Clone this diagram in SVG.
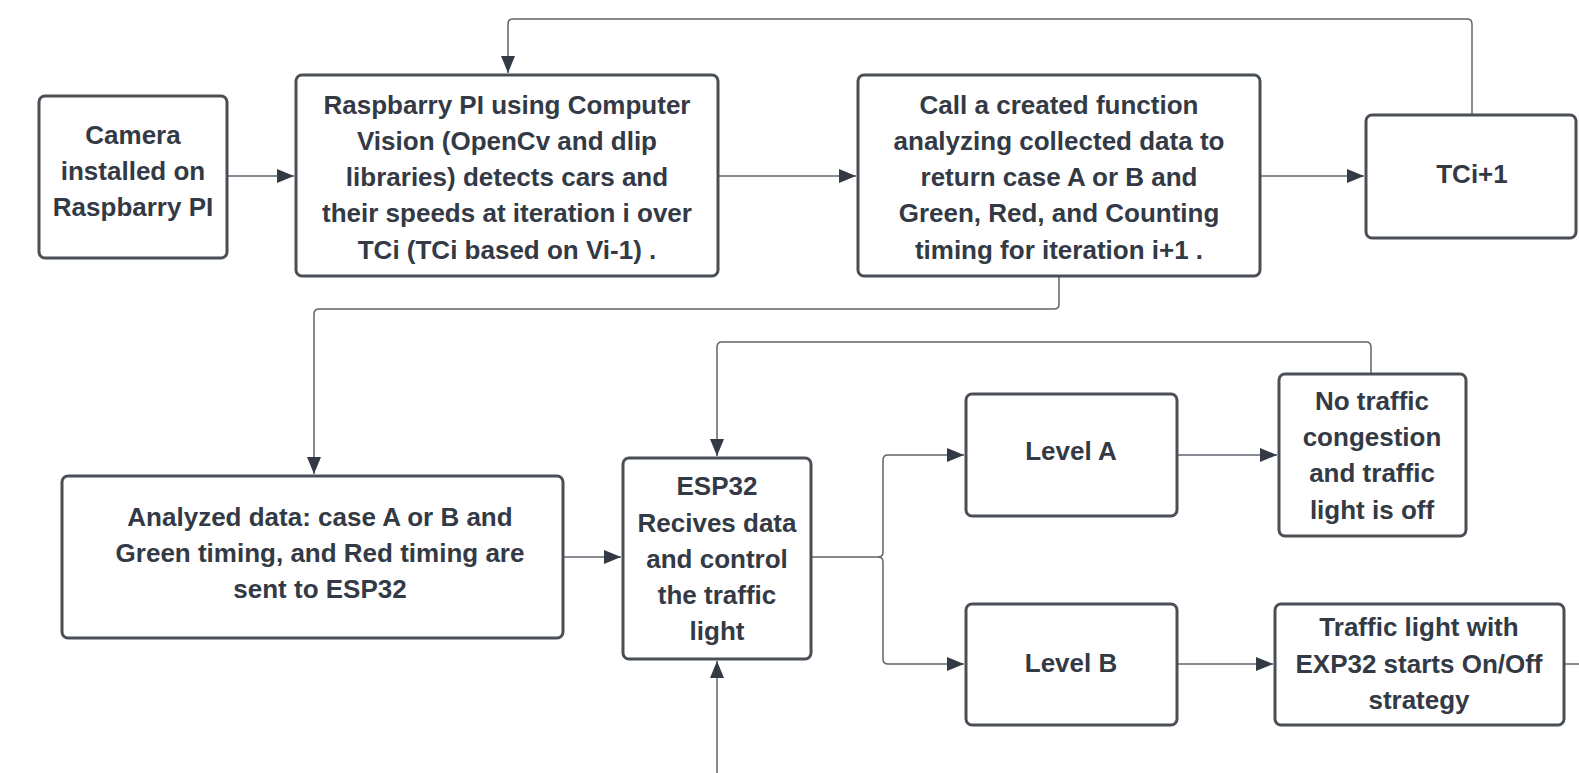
<svg xmlns="http://www.w3.org/2000/svg" width="1579" height="773" viewBox="0 0 1579 773">
<style>
.box{fill:#ffffff;stroke:#4a4f56;stroke-width:3}
.t{font-family:"Liberation Sans",Arial,sans-serif;font-weight:bold;font-size:26px;fill:#333a45;text-anchor:middle}
.c{fill:none;stroke:#60656c;stroke-width:1.5}
</style>
<defs>
<marker id="ah" markerUnits="userSpaceOnUse" markerWidth="18" markerHeight="14" refX="17" refY="7" orient="auto">
<path d="M0,0 L17,7 L0,14 z" fill="#333a45"/>
</marker>
</defs>
<rect width="1579" height="773" fill="#ffffff"/>
<g id="connectors">
<path class="c" d="M227,176 H294" marker-end="url(#ah)"/>
<path class="c" d="M718,176 H856" marker-end="url(#ah)"/>
<path class="c" d="M1260,176 H1364" marker-end="url(#ah)"/>
<path class="c" d="M1472,115 V24 q0,-5 -5,-5 H513 q-5,0 -5,5 V73" marker-end="url(#ah)"/>
<path class="c" d="M1059,276 V304 q0,5 -5,5 H319 q-5,0 -5,5 V474" marker-end="url(#ah)"/>
<path class="c" d="M563,557 H621" marker-end="url(#ah)"/>
<path class="c" d="M1371,374 V347 q0,-5 -5,-5 H722 q-5,0 -5,5 V456" marker-end="url(#ah)"/>
<path class="c" d="M717,773 V661" marker-end="url(#ah)"/>
<path class="c" d="M811,557 H878 q5,0 5,-5 V460 q0,-5 5,-5 H964" marker-end="url(#ah)"/>
<path class="c" d="M878,557 q5,0 5,5 V659 q0,5 5,5 H964" marker-end="url(#ah)"/>
<path class="c" d="M1177,455 H1277" marker-end="url(#ah)"/>
<path class="c" d="M1177,664 H1273" marker-end="url(#ah)"/>
<path class="c" d="M1564,664 H1579"/>
</g>
<g id="camera">
<rect class="box" x="39" y="96" width="188" height="162" rx="6"/>
<text class="t"><tspan x="133" y="144">Camera</tspan><tspan x="133" y="180">installed on</tspan><tspan x="133" y="216">Raspbarry PI</tspan></text>
</g>
<g id="raspberry">
<rect class="box" x="296" y="75" width="422" height="201" rx="6"/>
<text class="t"><tspan x="507" y="114">Raspbarry PI using Computer</tspan><tspan x="507" y="150">Vision (OpenCv and dlip</tspan><tspan x="507" y="186">libraries) detects cars and</tspan><tspan x="507" y="222">their speeds at iteration i over</tspan><tspan x="507" y="259">TCi (TCi based on Vi-1) .</tspan></text>
</g>
<g id="call">
<rect class="box" x="858" y="75" width="402" height="201" rx="6"/>
<text class="t"><tspan x="1059" y="114">Call a created function</tspan><tspan x="1059" y="150">analyzing collected data to</tspan><tspan x="1059" y="186">return case A or B and</tspan><tspan x="1059" y="222">Green, Red, and Counting</tspan><tspan x="1059" y="259">timing for iteration i+1 .</tspan></text>
</g>
<g id="tci1">
<rect class="box" x="1366" y="115" width="210" height="123" rx="6"/>
<text class="t" x="1472" y="183">TCi+1</text>
</g>
<g id="analyzed">
<rect class="box" x="62" y="476" width="501" height="162" rx="6"/>
<text class="t"><tspan x="320" y="526">Analyzed data: case A or B and</tspan><tspan x="320" y="562">Green timing, and Red timing are</tspan><tspan x="320" y="598">sent to ESP32</tspan></text>
</g>
<g id="esp32">
<rect class="box" x="623" y="458" width="188" height="201" rx="6"/>
<text class="t"><tspan x="717" y="495">ESP32</tspan><tspan x="717" y="532">Recives data</tspan><tspan x="717" y="568">and control</tspan><tspan x="717" y="604">the traffic</tspan><tspan x="717" y="640">light</tspan></text>
</g>
<g id="levelA">
<rect class="box" x="966" y="394" width="211" height="122" rx="6"/>
<text class="t" x="1071" y="460">Level A</text>
</g>
<g id="notraffic">
<rect class="box" x="1279" y="374" width="187" height="162" rx="6"/>
<text class="t"><tspan x="1372" y="410">No traffic</tspan><tspan x="1372" y="446">congestion</tspan><tspan x="1372" y="482">and traffic</tspan><tspan x="1372" y="519">light is off</tspan></text>
</g>
<g id="levelB">
<rect class="box" x="966" y="604" width="211" height="121" rx="6"/>
<text class="t" x="1071" y="672">Level B</text>
</g>
<g id="trafficlight">
<rect class="box" x="1275" y="604" width="289" height="121" rx="6"/>
<text class="t"><tspan x="1419" y="636">Traffic light with</tspan><tspan x="1419" y="673">EXP32 starts On/Off</tspan><tspan x="1419" y="709">strategy</tspan></text>
</g>
</svg>
